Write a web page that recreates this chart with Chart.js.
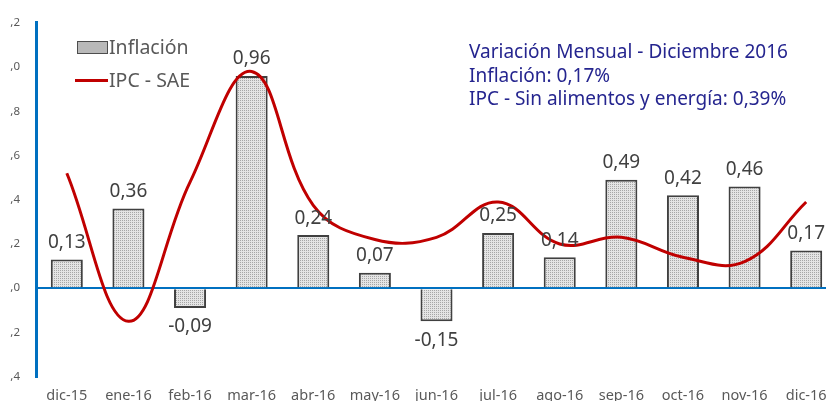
<!DOCTYPE html>
<html>
<head>
<meta charset="utf-8">
<script src="https://cdn.jsdelivr.net/npm/chart.js@4"></script>
<style>
  html, body { margin: 0; padding: 0; background: #fff; }
  #wrap { position: relative; width: 826px; height: 401px; overflow: hidden; }
  #chart { position: absolute; left: 0; top: 0; }
  .leg { position: absolute; font-family: "Noto Sans", sans-serif; font-size: 19.5px; color: #595959; line-height: 22px; }
  .swatch { position: absolute; left: 77px; top: 41px; width: 29px; height: 11px; border: 1.5px solid #4d4d4d;
            background-color: #e2e2e2;
            background-image: radial-gradient(#8a8a8a 0.6px, transparent 0.8px); background-size: 2px 2px; }
  .redline { position: absolute; left: 75px; top: 79px; width: 33px; height: 3px; background: #c00000; }
  .note { position: absolute; left: 469px; top: 40px; font-family: "Noto Sans", sans-serif; font-size: 19px;
          color: #25258f; line-height: 23.5px; white-space: nowrap; }
</style>
</head>
<body>
<div id="wrap">
  <canvas id="chart" width="850" height="416"></canvas>
  <div class="swatch"></div>
  <div class="leg" style="left:109px; top:36px;">Inflación</div>
  <div class="redline"></div>
  <div class="leg" style="left:109px; top:69px;">IPC - SAE</div>
  <div class="note">Variación Mensual - Diciembre 2016<br>Inflación: 0,17%<br>IPC - Sin alimentos y energía: 0,39%</div>
</div>
<script>
const months = ["dic-15", "ene-16", "feb-16", "mar-16", "abr-16", "may-16", "jun-16",
                "jul-16", "ago-16", "sep-16", "oct-16", "nov-16", "dic-16"];
const inflacion = [0.13, 0.36, -0.09, 0.96, 0.24, 0.07, -0.15, 0.25, 0.14, 0.49, 0.42, 0.46, 0.17];
const ipcSae = [0.52, -0.15, 0.48, 0.98, 0.375, 0.22, 0.23, 0.39, 0.20, 0.23, 0.14, 0.12, 0.39];
const yMin = -0.4, yMax = 1.2, yStep = 0.2;

// dotted fill for the bars
function dotPattern() {
  const c = document.createElement("canvas");
  c.width = 2; c.height = 2;
  const g = c.getContext("2d");
  g.fillStyle = "#e4e4e4";
  g.fillRect(0, 0, 2, 2);
  g.fillStyle = "#a6a6a6";
  g.fillRect(0, 0, 1, 1);
  return g.createPattern(c, "repeat");
}

const fmt = (v) => v.toFixed(2).replace(".", ",");

// value labels above / below the bars
const barLabels = {
  id: "barLabels",
  afterDatasetsDraw(chart) {
    const ctx = chart.ctx;
    const meta = chart.getDatasetMeta(1);
    ctx.save();
    ctx.font = "19px 'Noto Sans'";
    ctx.fillStyle = "#404040";
    ctx.textAlign = "center";
    ctx.textBaseline = "middle";
    meta.data.forEach((bar, i) => {
      const v = inflacion[i];
      const y = v >= 0 ? bar.y - 17 : bar.y + 19;
      ctx.fillText(fmt(v), bar.x, y);
    });
    ctx.restore();
  }
};

const ctx = document.getElementById("chart").getContext("2d");
const chart = new Chart(ctx, {
  data: {
    labels: months,
    datasets: [
      {
        type: "line",
        label: "IPC - SAE",
        data: ipcSae,
        borderColor: "#c00000",
        borderWidth: 3,
        pointRadius: 0,
        tension: 0.4,
        fill: false,
        order: 0,
      },
      {
        type: "bar",
        label: "Inflación",
        data: inflacion,
        backgroundColor: dotPattern(),
        borderColor: "#404040",
        borderWidth: 2,
        barPercentage: 0.52,
        categoryPercentage: 1,
        order: 1,
      },
    ],
  },
  plugins: [barLabels],
  options: {
    responsive: false,
    animation: false,
    layout: { padding: { top: 14, right: 13, left: 0, bottom: 0 } },
    plugins: { legend: { display: false }, tooltip: { enabled: false } },
    scales: {
      x: {
        grid: { display: false, drawTicks: false },
        border: { display: false },
        ticks: {
          autoSkip: false, maxRotation: 0, padding: 11,
          color: "#595959", font: { family: "Noto Sans", size: 14.5 },
        },
      },
      y: {
        min: yMin, max: yMax,
        afterFit: (s) => { s.width = 36; },
        grid: {
          drawTicks: false,
          color: (c) => (c.tick && Math.abs(c.tick.value) < 1e-9 ? "#0070c0" : "transparent"),
          lineWidth: 2,
        },
        border: { color: "#0070c0", width: 3 },
        ticks: {
          stepSize: yStep, padding: 16,
          color: "#595959", font: { family: "Noto Sans", size: 11.5 },
          // the reference picture is cropped on the left: only ",d" of each label shows
          callback: (v) => { const s = Number(v).toFixed(1).replace(".", ","); return s.slice(s.indexOf(",")); },
        },
      },
    },
  },
});
</script>
</body>
</html>
